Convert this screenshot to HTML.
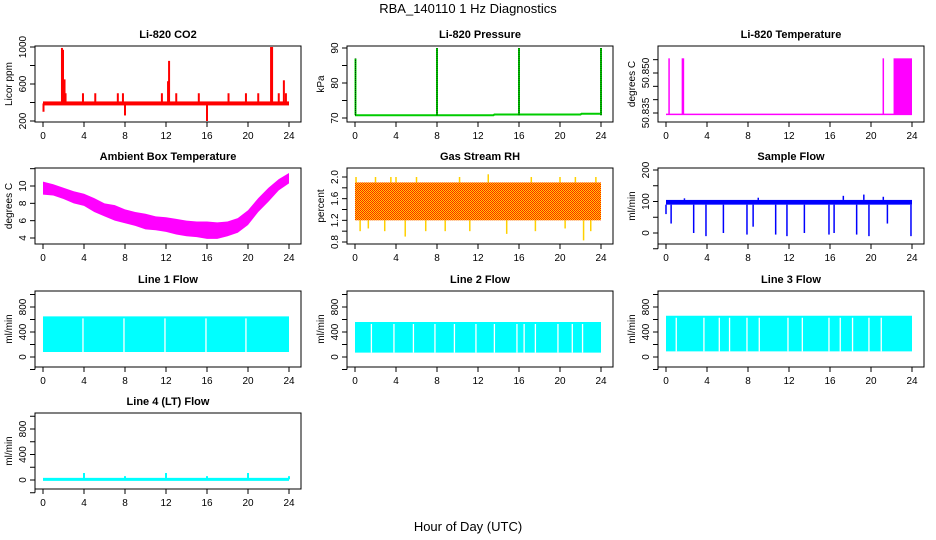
<!DOCTYPE html>
<html><head><meta charset="utf-8"><style>
html,body{margin:0;padding:0;background:#fff}
svg{display:block;font-family:"Liberation Sans",sans-serif}
</style></head><body>
<svg id="c" width="936" height="540" viewBox="0 0 936 540">
<defs>
<pattern id="rhpat" width="2" height="2" patternUnits="userSpaceOnUse">
<rect width="2" height="2" fill="#ffd000"/><rect width="1" height="1" fill="#ff2000"/><rect x="1" y="1" width="1" height="1" fill="#ff2000"/>
</pattern>
</defs>
<text x="468" y="13" text-anchor="middle" font-size="13">RBA_140110  1 Hz Diagnostics</text>
<text x="468" y="531" text-anchor="middle" font-size="13">Hour of Day (UTC)</text>
</svg>
<script>
// ---- data ----
const hourTicks = [0,4,8,12,16,20,24];
const co2Base = 390;
const co2Spikes = [[0.05,300],[1.85,990],[1.95,970],[2.1,650],[2.2,500],[3.9,500],[5.1,500],[7.3,500],[7.8,500],[8.0,260],[11.6,500],[12.2,630],[12.3,850],[13.0,500],[15.2,500],[16.0,200],[18.1,500],[19.8,500],[21.0,500],[22.25,1000],[22.35,1000],[23.0,500],[23.5,640],[23.7,500]];
const presBase = [[0,70.8],[13.5,70.8],[13.6,71.0],[22,71.0],[22.1,71.2],[23.9,71.2]];
const presSpikes = [[0.05,87],[8.0,90],[16.0,90],[24.0,90]];
const tempBase = 50.8345;
const tempSpikes = [[0.3,50.8555],[1.6,50.8555],[1.7,50.8555],[21.2,50.8555]];
const tempBlock = [22.2,24.0,50.8555];
const ambHours = [0,1,2,3,4,5,6,7,8,9,10,11,12,13,14,15,16,17,18,19,20,21,22,23,24];
const ambHigh = [10.5,10.2,9.8,9.4,9.1,8.6,8.0,7.8,7.3,7.0,6.8,6.5,6.4,6.2,6.0,5.9,5.9,5.8,5.9,6.3,7.2,8.6,9.8,10.8,11.5];
const ambLow = [9.0,8.9,8.5,8.0,7.7,7.0,6.5,6.0,5.7,5.4,5.0,4.9,4.7,4.4,4.2,4.1,3.9,3.9,4.2,4.6,5.5,7.0,8.2,9.5,10.3];
const rhBand = [1.2,1.9];
const rhSpikesUp = [[0.1,2.0],[2.0,2.0],[3.5,2.0],[4.0,2.0],[6.0,2.0],[10.2,2.0],[13.0,2.05],[17.2,2.0],[20.0,2.0],[21.5,2.0],[23.5,2.0]];
const rhSpikesDown = [[0.5,1.0],[1.3,1.05],[2.9,1.0],[4.9,0.9],[6.9,1.0],[8.8,1.0],[11.2,1.0],[14.8,0.95],[17.6,1.0],[20.5,1.05],[22.3,0.83],[23.0,1.0]];
const sfBand = [90,105];
const sfDips = [[0.0,60],[0.5,30],[2.7,0],[3.9,-10],[5.6,0],[7.9,-5],[8.5,20],[10.7,-5],[11.8,-10],[13.5,0],[15.9,-5],[16.4,0],[18.6,-5],[19.8,-10],[21.6,30],[23.9,-10]];
const sfPeaks = [[1.8,110],[9.0,112],[17.3,118],[19.3,122],[21.2,115]];
const l1Band = [80,650];
const l1Gaps = [3.9,7.9,11.9,15.9,19.8];
const l2Band = [70,560];
const l2Gaps = [1.6,3.8,5.7,7.8,9.7,11.8,13.6,15.8,16.5,17.6,19.8,21.2,22.2];
const l3Band = [90,660];
const l3Gaps = [1.0,3.7,5.2,6.2,7.9,9.1,11.9,13.3,15.9,17.0,18.2,19.8,21.0];
const l4Base = 10;
const l4Spikes = [[4.0,110],[8.0,60],[12.0,110],[16.0,60],[20.0,110],[24.0,60]];

// ---- drawing ----
const svg = document.getElementById('c');
const NS = 'http://www.w3.org/2000/svg';
function mk(tag, at, parent){const e=document.createElementNS(NS,tag);for(const k in at)e.setAttribute(k,at[k]);(parent||svg).appendChild(e);return e;}
const colX=[35,347,658], rowY=[46,168,291,413], W=266, H=76;

function panel(name,col,row,title,ylab,v1,p1,v2,p2,ticks,labels){
  const g=mk('g',{});
  
  
  const x0=colX[col], y0=rowY[row];
  const X=h=>x0+8+h*(246/24);
  const Y=v=>p1+(v-v1)*(p2-p1)/(v2-v1);
  const r=mk('rect',{x:x0,y:y0,width:W,height:H,fill:'none',stroke:'#000','stroke-width':1},g);
  
  
  const t=mk('text',{x:x0+W/2,y:y0-8,'text-anchor':'middle','font-size':11,'font-weight':'bold'},g);
  t.textContent=title;
  
  
  const yl=mk('text',{x:0,y:0,'text-anchor':'middle','font-size':10,transform:`translate(${x0-23},${y0+H/2}) rotate(-90)`},g);
  yl.textContent=ylab;
  
  
  // x axis
  const xa=mk('g',{},g);
  
  
  mk('line',{x1:X(0),x2:X(24),y1:y0+H,y2:y0+H,stroke:'#000'},xa);
  hourTicks.forEach(h=>{
    mk('line',{x1:X(h),x2:X(h),y1:y0+H,y2:y0+H+5,stroke:'#000'},xa);
    const tl=mk('text',{x:X(h),y:y0+H+17,'text-anchor':'middle','font-size':10},xa);
    tl.textContent=h;
  });
  // y axis
  const ya=mk('g',{},g);
  
  
  mk('line',{x1:x0,x2:x0,y1:Y(ticks[0]),y2:Y(ticks[ticks.length-1]),stroke:'#000'},ya);
  ticks.forEach(v=>mk('line',{x1:x0-5,x2:x0,y1:Y(v),y2:Y(v),stroke:'#000'},ya));
  labels.forEach(v=>{
    const py=Y(v);
    const tl=mk('text',{x:0,y:0,'text-anchor':'middle','font-size':10,transform:`translate(${x0-9},${py}) rotate(-90)`},ya);
    tl.textContent=v;
  });
  const d=mk('g',{},g);
  
  
  return {X,Y,d};
}
function vline(p,d,h,a,b,col,w){mk('line',{x1:p.X(h),x2:p.X(h),y1:p.Y(a),y2:p.Y(b),stroke:col,'stroke-width':w||2},d);}

// CO2
let p=panel('co2',0,0,'Li-820 CO2','Licor ppm',1000,47,200,121,[200,400,600,800,1000],[200,600,1000]);
mk('rect',{x:p.X(0),y:p.Y(co2Base)-2,width:p.X(24)-p.X(0),height:4,fill:'#f00'},p.d);
co2Spikes.forEach(s=>vline(p,p.d,s[0],co2Base,s[1],'#f00',2));

// Pressure
p=panel('pressure',1,0,'Li-820 Pressure','kPa',90,48,70,118,[70,75,80,85,90],[70,80,90]);
mk('polyline',{points:presBase.map(q=>p.X(q[0])+','+p.Y(q[1])).join(' '),fill:'none',stroke:'#0c0','stroke-width':2},p.d);
presSpikes.forEach(s=>{vline(p,p.d,s[0],70.8,s[1],'#0d0',2);mk('line',{x1:p.X(s[0]),x2:p.X(s[0]),y1:p.Y(70.8),y2:p.Y(s[1]),stroke:'#000','stroke-width':1,'stroke-dasharray':'1,1'},p.d);});

// Li-820 temperature
p=panel('li820-temp',2,0,'Li-820 Temperature','degrees C',50.835,113,50.850,73,[50.835,50.840,50.845,50.850,50.855],['50.835','50.850']);
mk('line',{x1:p.X(0),x2:p.X(24),y1:p.Y(tempBase),y2:p.Y(tempBase),stroke:'#f0f','stroke-width':1.5},p.d);
tempSpikes.forEach(s=>vline(p,p.d,s[0],tempBase,s[1],'#f0f',1.5));
mk('rect',{x:p.X(tempBlock[0]),y:p.Y(tempBlock[2]),width:p.X(tempBlock[1])-p.X(tempBlock[0]),height:p.Y(tempBase)-p.Y(tempBlock[2]),fill:'#f0f'},p.d);

// Ambient
p=panel('ambient-temp',0,1,'Ambient Box Temperature','degrees C',4,238,10,186,[4,6,8,10,12],[4,6,8,10]);
let pts=ambHours.map((h,i)=>p.X(h)+','+p.Y(ambHigh[i])).concat(ambHours.slice().reverse().map((h,i)=>p.X(h)+','+p.Y(ambLow[ambHours.length-1-i])));
mk('polygon',{points:pts.join(' '),fill:'#f0f'},p.d);

// RH
p=panel('gas-stream-rh',1,1,'Gas Stream RH','percent',0.8,242,2.0,177,[0.8,1.0,1.2,1.4,1.6,1.8,2.0],['0.8','1.2','1.6','2.0']);
rhSpikesUp.forEach(s=>vline(p,p.d,s[0],rhBand[1],s[1],'#ffd000',1.5));
rhSpikesDown.forEach(s=>vline(p,p.d,s[0],rhBand[0],s[1],'#ffd000',1.5));
mk('rect',{x:p.X(0),y:p.Y(rhBand[1]),width:p.X(24)-p.X(0),height:p.Y(rhBand[0])-p.Y(rhBand[1]),fill:'url(#rhpat)'},p.d);

// Sample flow
p=panel('sample-flow',2,1,'Sample Flow','ml/min',0,233,200,170,[-50,0,50,100,150,200],[0,100,200]);
mk('rect',{x:p.X(0),y:p.Y(sfBand[1]),width:p.X(24)-p.X(0),height:p.Y(sfBand[0])-p.Y(sfBand[1]),fill:'#00f'},p.d);
sfDips.forEach(s=>vline(p,p.d,s[0],sfBand[0],s[1],'#00f',1.5));
sfPeaks.forEach(s=>vline(p,p.d,s[0],sfBand[1],s[1],'#00f',1.5));

// Line flows
function lineFlow(name,col,row,title,band,gaps){
  const q=panel(name,col,row,title,'ml/min',0,row===2?357:480,800,row===2?307:429,[-200,0,200,400,600,800,1000],[0,400,800]);
  mk('rect',{x:q.X(0),y:q.Y(band[1]),width:q.X(24)-q.X(0),height:q.Y(band[0])-q.Y(band[1]),fill:'#0ff'},q.d);
  gaps.forEach(h=>mk('line',{x1:q.X(h),x2:q.X(h),y1:q.Y(band[1])+2,y2:q.Y(band[0]),stroke:'#fff','stroke-width':1.3},q.d));
}
lineFlow('line1-flow',0,2,'Line 1 Flow',l1Band,l1Gaps);
lineFlow('line2-flow',1,2,'Line 2 Flow',l2Band,l2Gaps);
lineFlow('line3-flow',2,2,'Line 3 Flow',l3Band,l3Gaps);

// Line 4
p=panel('line4-flow',0,3,'Line 4 (LT) Flow','ml/min',0,480,800,429,[-200,0,200,400,600,800,1000],[0,400,800]);
mk('rect',{x:p.X(0),y:p.Y(l4Base)-1.5,width:p.X(24)-p.X(0),height:3,fill:'#0ff'},p.d);
l4Spikes.forEach(s=>vline(p,p.d,s[0],l4Base,s[1],'#0ff',2));
</script>
</body></html>
